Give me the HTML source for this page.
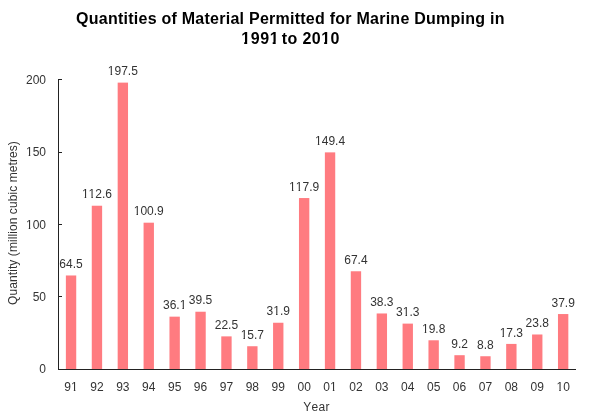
<!DOCTYPE html><html><head><meta charset="utf-8"><style>
html,body{margin:0;padding:0;background:#fff;width:593px;height:416px;overflow:hidden;position:relative}
.t{position:absolute;font-family:"Liberation Sans",sans-serif;white-space:nowrap;line-height:1;font-kerning:none;color:#000}
.s{font-size:12px;color:#333}
.c{transform:translateX(-50%)}
.o{display:inline-block;clip-path:polygon(0 0,100% 0,100% 9px,4.3px 9px,4.3px 100%,2.8px 100%,2.8px 9px,0 9px)}
.ob{display:inline-block;clip-path:polygon(0 0,100% 0,100% 11px,6px 11px,6px 100%,3px 100%,3px 11px,0 11px)}
.b{position:absolute;background:#FF7B80}
.ln{position:absolute;background:#222}
#w{position:absolute;left:0;top:0;width:593px;height:416px;will-change:transform;background:#fff}
</style></head><body><div id="w">
<svg style="position:absolute;left:0;top:0" width="593" height="416" viewBox="0 0 593 416"><g fill="#FF7B80"><rect x="65.870" y="275.475" width="10.360" height="93.525"/><rect x="91.770" y="205.730" width="10.360" height="163.270"/><rect x="117.670" y="82.625" width="10.360" height="286.375"/><rect x="143.570" y="222.695" width="10.360" height="146.305"/><rect x="169.470" y="316.655" width="10.360" height="52.345"/><rect x="195.370" y="311.725" width="10.360" height="57.275"/><rect x="221.270" y="336.375" width="10.360" height="32.625"/><rect x="247.170" y="346.235" width="10.360" height="22.765"/><rect x="273.070" y="322.745" width="10.360" height="46.255"/><rect x="298.970" y="198.045" width="10.360" height="170.955"/><rect x="324.870" y="152.370" width="10.360" height="216.630"/><rect x="350.770" y="271.270" width="10.360" height="97.730"/><rect x="376.670" y="313.465" width="10.360" height="55.535"/><rect x="402.570" y="323.615" width="10.360" height="45.385"/><rect x="428.470" y="340.290" width="10.360" height="28.710"/><rect x="454.370" y="355.200" width="10.360" height="13.800"/><rect x="480.270" y="356.240" width="10.360" height="12.760"/><rect x="506.170" y="343.915" width="10.360" height="25.085"/><rect x="532.070" y="334.490" width="10.360" height="34.510"/><rect x="557.970" y="314.045" width="10.360" height="54.955"/></g></svg>
<div class="t c" style="font-size:16px;font-weight:bold;letter-spacing:0.25px;left:290.4px;top:10.66px">Quantities of Material Permitted for Marine Dumping in</div>
<div class="t" style="font-size:16px;font-weight:bold;letter-spacing:0.6px;left:241.2px;top:30.66px"><span class="ob">1</span>99<span class="ob">1</span></div>
<div class="t" style="font-size:16px;font-weight:bold;letter-spacing:0.42px;left:281.7px;top:30.66px">to 20<span class="ob">1</span>0</div>
<div class="t s c" style="left:71.05px;top:257.84px">64.5</div>
<div class="t s c" style="left:71.05px;top:380.84px">9<span class="o">1</span></div>
<div class="t s c" style="left:96.95px;top:187.84px"><span class="o">1</span><span class="o">1</span>2.6</div>
<div class="t s c" style="left:96.95px;top:380.84px">92</div>
<div class="t s c" style="left:122.85px;top:64.84px"><span class="o">1</span>97.5</div>
<div class="t s c" style="left:122.85px;top:380.84px">93</div>
<div class="t s c" style="left:148.75px;top:204.84px"><span class="o">1</span>00.9</div>
<div class="t s c" style="left:148.75px;top:380.84px">94</div>
<div class="t s c" style="left:174.65px;top:298.84px">36.<span class="o">1</span></div>
<div class="t s c" style="left:174.65px;top:380.84px">95</div>
<div class="t s c" style="left:200.55px;top:293.84px">39.5</div>
<div class="t s c" style="left:200.55px;top:380.84px">96</div>
<div class="t s c" style="left:226.45px;top:318.84px">22.5</div>
<div class="t s c" style="left:226.45px;top:380.84px">97</div>
<div class="t s c" style="left:252.35px;top:328.84px"><span class="o">1</span>5.7</div>
<div class="t s c" style="left:252.35px;top:380.84px">98</div>
<div class="t s c" style="left:278.25px;top:304.84px">3<span class="o">1</span>.9</div>
<div class="t s c" style="left:278.25px;top:380.84px">99</div>
<div class="t s c" style="left:304.15px;top:180.84px"><span class="o">1</span><span class="o">1</span>7.9</div>
<div class="t s c" style="left:304.15px;top:380.84px">00</div>
<div class="t s c" style="left:330.05px;top:134.84px"><span class="o">1</span>49.4</div>
<div class="t s c" style="left:330.05px;top:380.84px">0<span class="o">1</span></div>
<div class="t s c" style="left:355.95px;top:253.84px">67.4</div>
<div class="t s c" style="left:355.95px;top:380.84px">02</div>
<div class="t s c" style="left:381.85px;top:295.84px">38.3</div>
<div class="t s c" style="left:381.85px;top:380.84px">03</div>
<div class="t s c" style="left:407.75px;top:305.84px">3<span class="o">1</span>.3</div>
<div class="t s c" style="left:407.75px;top:380.84px">04</div>
<div class="t s c" style="left:433.65px;top:322.84px"><span class="o">1</span>9.8</div>
<div class="t s c" style="left:433.65px;top:380.84px">05</div>
<div class="t s c" style="left:459.55px;top:337.84px">9.2</div>
<div class="t s c" style="left:459.55px;top:380.84px">06</div>
<div class="t s c" style="left:485.45px;top:338.84px">8.8</div>
<div class="t s c" style="left:485.45px;top:380.84px">07</div>
<div class="t s c" style="left:511.35px;top:326.84px"><span class="o">1</span>7.3</div>
<div class="t s c" style="left:511.35px;top:380.84px">08</div>
<div class="t s c" style="left:537.25px;top:316.84px">23.8</div>
<div class="t s c" style="left:537.25px;top:380.84px">09</div>
<div class="t s c" style="left:563.15px;top:296.84px">37.9</div>
<div class="t s c" style="left:563.15px;top:380.84px"><span class="o">1</span>0</div>
<div class="ln" style="left:58px;top:79px;width:1px;height:291px"></div>
<div class="ln" style="left:58px;top:369px;width:518px;height:1px"></div>
<div class="ln" style="left:58px;top:369px;width:4px;height:1px"></div>
<div class="t s" style="right:547px;top:362.84px">0</div>
<div class="ln" style="left:58px;top:296px;width:4px;height:1px"></div>
<div class="t s" style="right:547px;top:290.84px">50</div>
<div class="ln" style="left:58px;top:224px;width:4px;height:1px"></div>
<div class="t s" style="right:547px;top:218.84px"><span class="o">1</span>00</div>
<div class="ln" style="left:58px;top:152px;width:4px;height:1px"></div>
<div class="t s" style="right:547px;top:145.84px"><span class="o">1</span>50</div>
<div class="ln" style="left:58px;top:79px;width:4px;height:1px"></div>
<div class="t s" style="right:547px;top:73.84px">200</div>
<div class="t s c" style="letter-spacing:0.25px;left:316.5px;top:400.64px">Year</div>
<div class="t s" style="letter-spacing:0.08px;left:13.00px;top:222.50px;transform:translate(-50%,-50%) rotate(-90deg)">Quantity (million cubic metres)</div>
</div></body></html>
